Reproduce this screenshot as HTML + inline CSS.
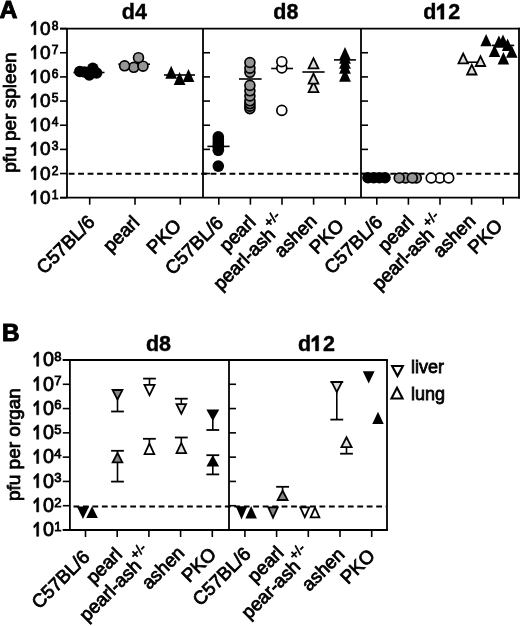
<!DOCTYPE html>
<html><head><meta charset="utf-8"><style>
html,body{margin:0;padding:0;background:#fff;}
svg{display:block;filter:grayscale(1);}
text{font-family:"Liberation Sans", sans-serif;fill:#000;stroke:#000;stroke-width:0.8px;}
</style></head><body>
<svg width="520" height="626" viewBox="0 0 520 626">
<rect width="520" height="626" fill="#fff"/>
<line x1="60.00" y1="28.60" x2="520.00" y2="28.60" stroke="#000" stroke-width="1.8" />
<line x1="60.00" y1="197.70" x2="520.00" y2="197.70" stroke="#000" stroke-width="1.8" />
<line x1="67.00" y1="28.60" x2="67.00" y2="197.70" stroke="#000" stroke-width="1.8" />
<line x1="203.00" y1="28.60" x2="203.00" y2="197.70" stroke="#000" stroke-width="1.8" />
<line x1="361.00" y1="28.60" x2="361.00" y2="197.70" stroke="#000" stroke-width="1.8" />
<line x1="519.00" y1="27.70" x2="519.00" y2="198.60" stroke="#000" stroke-width="1.8" />
<line x1="60.00" y1="197.70" x2="67.00" y2="197.70" stroke="#000" stroke-width="1.6" />
<text x="50.50" y="203.80" font-size="19" text-anchor="end" font-weight="normal" >0</text>
<polygon points="35.89,203.80 35.89,190.20 34.60,190.20 31.08,193.92 31.46,195.91 33.99,193.54 33.99,203.80" fill="#000" stroke="#000" stroke-width="0.6" stroke-linejoin="round"/>
<text x="51.70" y="198.70" font-size="12" text-anchor="start" font-weight="normal" >1</text>
<line x1="60.00" y1="173.54" x2="67.00" y2="173.54" stroke="#000" stroke-width="1.6" />
<line x1="203.00" y1="173.54" x2="210.00" y2="173.54" stroke="#000" stroke-width="1.6" />
<line x1="361.00" y1="173.54" x2="368.00" y2="173.54" stroke="#000" stroke-width="1.6" />
<text x="50.50" y="179.64" font-size="19" text-anchor="end" font-weight="normal" >0</text>
<polygon points="35.89,179.64 35.89,166.04 34.60,166.04 31.08,169.76 31.46,171.76 33.99,169.38 33.99,179.64" fill="#000" stroke="#000" stroke-width="0.6" stroke-linejoin="round"/>
<text x="51.70" y="174.54" font-size="12" text-anchor="start" font-weight="normal" >2</text>
<line x1="60.00" y1="149.39" x2="67.00" y2="149.39" stroke="#000" stroke-width="1.6" />
<line x1="203.00" y1="149.39" x2="210.00" y2="149.39" stroke="#000" stroke-width="1.6" />
<line x1="361.00" y1="149.39" x2="368.00" y2="149.39" stroke="#000" stroke-width="1.6" />
<text x="50.50" y="155.49" font-size="19" text-anchor="end" font-weight="normal" >0</text>
<polygon points="35.89,155.49 35.89,141.88 34.60,141.88 31.08,145.61 31.46,147.60 33.99,145.23 33.99,155.49" fill="#000" stroke="#000" stroke-width="0.6" stroke-linejoin="round"/>
<text x="51.70" y="150.39" font-size="12" text-anchor="start" font-weight="normal" >3</text>
<line x1="60.00" y1="125.23" x2="67.00" y2="125.23" stroke="#000" stroke-width="1.6" />
<line x1="203.00" y1="125.23" x2="210.00" y2="125.23" stroke="#000" stroke-width="1.6" />
<line x1="361.00" y1="125.23" x2="368.00" y2="125.23" stroke="#000" stroke-width="1.6" />
<text x="50.50" y="131.33" font-size="19" text-anchor="end" font-weight="normal" >0</text>
<polygon points="35.89,131.33 35.89,117.72 34.60,117.72 31.08,121.45 31.46,123.44 33.99,121.07 33.99,131.33" fill="#000" stroke="#000" stroke-width="0.6" stroke-linejoin="round"/>
<text x="51.70" y="126.23" font-size="12" text-anchor="start" font-weight="normal" >4</text>
<line x1="60.00" y1="101.07" x2="67.00" y2="101.07" stroke="#000" stroke-width="1.6" />
<line x1="203.00" y1="101.07" x2="210.00" y2="101.07" stroke="#000" stroke-width="1.6" />
<line x1="361.00" y1="101.07" x2="368.00" y2="101.07" stroke="#000" stroke-width="1.6" />
<text x="50.50" y="107.17" font-size="19" text-anchor="end" font-weight="normal" >0</text>
<polygon points="35.89,107.17 35.89,93.57 34.60,93.57 31.08,97.29 31.46,99.29 33.99,96.91 33.99,107.17" fill="#000" stroke="#000" stroke-width="0.6" stroke-linejoin="round"/>
<text x="51.70" y="102.07" font-size="12" text-anchor="start" font-weight="normal" >5</text>
<line x1="60.00" y1="76.91" x2="67.00" y2="76.91" stroke="#000" stroke-width="1.6" />
<line x1="203.00" y1="76.91" x2="210.00" y2="76.91" stroke="#000" stroke-width="1.6" />
<line x1="361.00" y1="76.91" x2="368.00" y2="76.91" stroke="#000" stroke-width="1.6" />
<text x="50.50" y="83.01" font-size="19" text-anchor="end" font-weight="normal" >0</text>
<polygon points="35.89,83.01 35.89,69.41 34.60,69.41 31.08,73.13 31.46,75.13 33.99,72.75 33.99,83.01" fill="#000" stroke="#000" stroke-width="0.6" stroke-linejoin="round"/>
<text x="51.70" y="77.91" font-size="12" text-anchor="start" font-weight="normal" >6</text>
<line x1="60.00" y1="52.76" x2="67.00" y2="52.76" stroke="#000" stroke-width="1.6" />
<line x1="203.00" y1="52.76" x2="210.00" y2="52.76" stroke="#000" stroke-width="1.6" />
<line x1="361.00" y1="52.76" x2="368.00" y2="52.76" stroke="#000" stroke-width="1.6" />
<text x="50.50" y="58.86" font-size="19" text-anchor="end" font-weight="normal" >0</text>
<polygon points="35.89,58.86 35.89,45.25 34.60,45.25 31.08,48.98 31.46,50.97 33.99,48.60 33.99,58.86" fill="#000" stroke="#000" stroke-width="0.6" stroke-linejoin="round"/>
<text x="51.70" y="53.76" font-size="12" text-anchor="start" font-weight="normal" >7</text>
<line x1="60.00" y1="28.60" x2="67.00" y2="28.60" stroke="#000" stroke-width="1.6" />
<text x="50.50" y="34.70" font-size="19" text-anchor="end" font-weight="normal" >0</text>
<polygon points="35.89,34.70 35.89,21.10 34.60,21.10 31.08,24.82 31.46,26.81 33.99,24.44 33.99,34.70" fill="#000" stroke="#000" stroke-width="0.6" stroke-linejoin="round"/>
<text x="51.70" y="29.60" font-size="12" text-anchor="start" font-weight="normal" >8</text>
<line x1="68.70" y1="173.80" x2="519.00" y2="173.80" stroke="#000" stroke-width="2" stroke-dasharray="5.8 3.66"/>
<line x1="89.70" y1="197.70" x2="89.70" y2="204.70" stroke="#000" stroke-width="1.6" />
<line x1="135.00" y1="197.70" x2="135.00" y2="204.70" stroke="#000" stroke-width="1.6" />
<line x1="180.30" y1="197.70" x2="180.30" y2="204.70" stroke="#000" stroke-width="1.6" />
<line x1="218.80" y1="197.70" x2="218.80" y2="204.70" stroke="#000" stroke-width="1.6" />
<line x1="250.40" y1="197.70" x2="250.40" y2="204.70" stroke="#000" stroke-width="1.6" />
<line x1="282.00" y1="197.70" x2="282.00" y2="204.70" stroke="#000" stroke-width="1.6" />
<line x1="313.60" y1="197.70" x2="313.60" y2="204.70" stroke="#000" stroke-width="1.6" />
<line x1="345.20" y1="197.70" x2="345.20" y2="204.70" stroke="#000" stroke-width="1.6" />
<line x1="376.80" y1="197.70" x2="376.80" y2="204.70" stroke="#000" stroke-width="1.6" />
<line x1="408.40" y1="197.70" x2="408.40" y2="204.70" stroke="#000" stroke-width="1.6" />
<line x1="440.00" y1="197.70" x2="440.00" y2="204.70" stroke="#000" stroke-width="1.6" />
<line x1="471.60" y1="197.70" x2="471.60" y2="204.70" stroke="#000" stroke-width="1.6" />
<line x1="503.20" y1="197.70" x2="503.20" y2="204.70" stroke="#000" stroke-width="1.6" />
<text x="134.30" y="19.20" font-size="21.5" text-anchor="middle" font-weight="bold"  style="stroke-width:0.4px">d4</text>
<text x="285.80" y="19.20" font-size="21.5" text-anchor="middle" font-weight="bold"  style="stroke-width:0.4px">d8</text>
<text x="423.18" y="19.20" font-size="21.5" text-anchor="start" font-weight="bold"  style="stroke-width:0.4px">d</text>
<polygon points="443.95,19.20 443.95,3.81 441.69,3.81 437.07,7.48 437.07,10.49 440.72,8.45 440.72,19.20" fill="#000" stroke="#000" stroke-width="0.4" stroke-linejoin="round"/>
<text x="448.27" y="19.20" font-size="21.5" text-anchor="start" font-weight="bold"  style="stroke-width:0.4px">2</text>
<text x="-0.50" y="17.60" font-size="24.8" text-anchor="start" font-weight="bold" style="stroke-width:1px">A</text>
<text transform="translate(16.2,112.6) rotate(-90)" font-size="19" text-anchor="middle">pfu per spleen</text>
<text transform="translate(96.00,223.20) rotate(-45)" font-size="18.8" text-anchor="end">C57BL/6</text>
<text transform="translate(140.40,223.60) rotate(-45)" font-size="18.8" text-anchor="end">pearl</text>
<text transform="translate(182.40,226.90) rotate(-45)" font-size="18.8" text-anchor="end">PKO</text>
<text transform="translate(224.40,224.00) rotate(-45)" font-size="18.8" text-anchor="end">C57BL/6</text>
<text transform="translate(256.60,223.40) rotate(-45)" font-size="18.8" text-anchor="end">pearl</text>
<text transform="translate(276.29,235.81) rotate(-45)" font-size="18.8" text-anchor="end">pearl-ash</text>
<text transform="translate(269.22,227.89) rotate(-45)" font-size="13.5">+/-</text>
<text transform="translate(318.00,222.20) rotate(-45)" font-size="18.8" text-anchor="end">ashen</text>
<text transform="translate(345.00,226.90) rotate(-45)" font-size="18.8" text-anchor="end">PKO</text>
<text transform="translate(383.70,223.40) rotate(-45)" font-size="18.8" text-anchor="end">C57BL/6</text>
<text transform="translate(415.00,223.40) rotate(-45)" font-size="18.8" text-anchor="end">pearl</text>
<text transform="translate(435.09,235.76) rotate(-45)" font-size="18.8" text-anchor="end">pearl-ash</text>
<text transform="translate(428.02,227.84) rotate(-45)" font-size="13.5">+/-</text>
<text transform="translate(476.60,222.20) rotate(-45)" font-size="18.8" text-anchor="end">ashen</text>
<text transform="translate(503.60,226.90) rotate(-45)" font-size="18.8" text-anchor="end">PKO</text>
<line x1="73.40" y1="72.50" x2="104.50" y2="72.50" stroke="#000" stroke-width="1.6" />
<line x1="118.30" y1="64.20" x2="150.00" y2="64.20" stroke="#000" stroke-width="1.6" />
<line x1="164.00" y1="75.00" x2="195.00" y2="75.00" stroke="#000" stroke-width="1.6" />
<line x1="207.40" y1="146.40" x2="229.60" y2="146.40" stroke="#000" stroke-width="1.6" />
<line x1="239.00" y1="79.00" x2="261.60" y2="79.00" stroke="#000" stroke-width="1.6" />
<line x1="271.20" y1="68.50" x2="293.00" y2="68.50" stroke="#000" stroke-width="1.6" />
<line x1="302.30" y1="72.00" x2="324.60" y2="72.00" stroke="#000" stroke-width="1.6" />
<line x1="334.00" y1="59.90" x2="355.90" y2="59.90" stroke="#000" stroke-width="1.6" />
<line x1="460.60" y1="62.20" x2="482.60" y2="62.20" stroke="#000" stroke-width="1.6" />
<line x1="492.00" y1="45.40" x2="514.20" y2="45.40" stroke="#000" stroke-width="1.6" />
<circle cx="79.80" cy="71.50" r="5.8" fill="#000"/>
<circle cx="84.50" cy="72.00" r="5.8" fill="#000"/>
<circle cx="89.30" cy="75.00" r="5.8" fill="#000"/>
<circle cx="96.60" cy="73.00" r="5.8" fill="#000"/>
<circle cx="92.80" cy="68.30" r="5.8" fill="#000"/>
<circle cx="133.80" cy="67.30" r="4.95" fill="#969696" stroke="#000" stroke-width="1.7"/>
<circle cx="124.60" cy="65.80" r="4.95" fill="#969696" stroke="#000" stroke-width="1.7"/>
<circle cx="143.00" cy="66.20" r="4.95" fill="#969696" stroke="#000" stroke-width="1.7"/>
<circle cx="138.50" cy="57.70" r="4.95" fill="#969696" stroke="#000" stroke-width="1.7"/>
<polygon points="171.20,65.80 177.10,78.80 165.30,78.80" fill="#000"/>
<polygon points="188.50,68.90 194.40,81.90 182.60,81.90" fill="#000"/>
<polygon points="179.60,71.90 185.50,84.90 173.70,84.90" fill="#000"/>
<circle cx="218.30" cy="150.30" r="5.8" fill="#000"/>
<circle cx="218.30" cy="147.50" r="5.8" fill="#000"/>
<circle cx="218.30" cy="145.00" r="5.8" fill="#000"/>
<circle cx="218.30" cy="142.50" r="5.8" fill="#000"/>
<circle cx="218.30" cy="139.50" r="5.8" fill="#000"/>
<circle cx="218.30" cy="136.80" r="5.8" fill="#000"/>
<circle cx="218.30" cy="166.10" r="5.8" fill="#000"/>
<circle cx="249.90" cy="72.30" r="4.95" fill="#969696" stroke="#000" stroke-width="1.7"/>
<circle cx="249.90" cy="68.20" r="4.95" fill="#969696" stroke="#000" stroke-width="1.7"/>
<circle cx="249.90" cy="62.50" r="4.95" fill="#969696" stroke="#000" stroke-width="1.7"/>
<circle cx="249.90" cy="108.60" r="4.95" fill="#969696" stroke="#000" stroke-width="1.7"/>
<circle cx="249.90" cy="106.20" r="4.95" fill="#969696" stroke="#000" stroke-width="1.7"/>
<circle cx="249.90" cy="103.60" r="4.95" fill="#969696" stroke="#000" stroke-width="1.7"/>
<circle cx="249.90" cy="100.80" r="4.95" fill="#969696" stroke="#000" stroke-width="1.7"/>
<circle cx="249.90" cy="96.00" r="4.95" fill="#969696" stroke="#000" stroke-width="1.7"/>
<circle cx="249.90" cy="90.80" r="4.95" fill="#969696" stroke="#000" stroke-width="1.7"/>
<circle cx="249.90" cy="85.40" r="4.95" fill="#969696" stroke="#000" stroke-width="1.7"/>
<circle cx="281.80" cy="110.40" r="4.95" fill="#fff" stroke="#000" stroke-width="1.7"/>
<circle cx="281.80" cy="68.00" r="4.95" fill="#fff" stroke="#000" stroke-width="1.7"/>
<circle cx="281.80" cy="61.70" r="4.95" fill="#fff" stroke="#000" stroke-width="1.7"/>
<polygon points="313.50,80.00 319.80,93.00 307.20,93.00" fill="#000"/>
<polygon points="313.50,84.13 316.93,91.20 310.07,91.20" fill="#dedede"/>
<polygon points="313.50,71.60 319.80,84.60 307.20,84.60" fill="#000"/>
<polygon points="313.50,75.73 316.93,82.80 310.07,82.80" fill="#dedede"/>
<polygon points="313.50,56.20 319.80,69.20 307.20,69.20" fill="#000"/>
<polygon points="313.50,60.33 316.93,67.40 310.07,67.40" fill="#dedede"/>
<polygon points="345.00,68.70 350.90,81.70 339.10,81.70" fill="#000"/>
<polygon points="345.00,60.80 350.90,73.80 339.10,73.80" fill="#000"/>
<polygon points="345.00,55.70 350.90,68.70 339.10,68.70" fill="#000"/>
<polygon points="345.00,50.70 350.90,63.70 339.10,63.70" fill="#000"/>
<polygon points="345.00,46.90 350.90,59.90 339.10,59.90" fill="#000"/>
<circle cx="368.00" cy="177.70" r="5.8" fill="#000"/>
<circle cx="373.70" cy="177.70" r="5.8" fill="#000"/>
<circle cx="379.40" cy="177.70" r="5.8" fill="#000"/>
<circle cx="385.00" cy="177.70" r="5.8" fill="#000"/>
<circle cx="405.50" cy="178.00" r="4.95" fill="#969696" stroke="#000" stroke-width="1.7"/>
<circle cx="416.30" cy="178.00" r="4.95" fill="#969696" stroke="#000" stroke-width="1.7"/>
<circle cx="399.20" cy="178.00" r="4.95" fill="#969696" stroke="#000" stroke-width="1.7"/>
<circle cx="412.30" cy="178.00" r="4.95" fill="#969696" stroke="#000" stroke-width="1.7"/>
<circle cx="439.80" cy="178.00" r="4.95" fill="#fff" stroke="#000" stroke-width="1.7"/>
<circle cx="431.20" cy="178.00" r="4.95" fill="#fff" stroke="#000" stroke-width="1.7"/>
<circle cx="448.70" cy="178.00" r="4.95" fill="#fff" stroke="#000" stroke-width="1.7"/>
<polygon points="471.80,62.80 477.95,75.40 465.65,75.40" fill="#000"/>
<polygon points="471.80,66.90 475.07,73.60 468.53,73.60" fill="#dedede"/>
<polygon points="463.20,51.60 469.35,64.20 457.05,64.20" fill="#000"/>
<polygon points="463.20,55.70 466.47,62.40 459.93,62.40" fill="#dedede"/>
<polygon points="480.50,54.30 486.65,66.90 474.35,66.90" fill="#000"/>
<polygon points="480.50,58.40 483.77,65.10 477.23,65.10" fill="#dedede"/>
<polygon points="486.10,34.00 491.85,46.30 480.35,46.30" fill="#000"/>
<polygon points="498.90,35.50 504.65,47.80 493.15,47.80" fill="#000"/>
<polygon points="503.00,34.40 508.75,46.70 497.25,46.70" fill="#000"/>
<polygon points="507.60,38.60 513.35,50.90 501.85,50.90" fill="#000"/>
<polygon points="494.50,44.80 500.25,57.10 488.75,57.10" fill="#000"/>
<polygon points="511.80,45.50 517.55,57.80 506.05,57.80" fill="#000"/>
<polygon points="503.40,52.10 509.15,64.40 497.65,64.40" fill="#000"/>
<line x1="62.80" y1="360.00" x2="387.90" y2="360.00" stroke="#000" stroke-width="1.8" />
<line x1="62.80" y1="530.00" x2="387.90" y2="530.00" stroke="#000" stroke-width="1.8" />
<line x1="69.90" y1="360.00" x2="69.90" y2="530.00" stroke="#000" stroke-width="1.8" />
<line x1="229.00" y1="360.00" x2="229.00" y2="530.00" stroke="#000" stroke-width="1.8" />
<line x1="387.00" y1="360.00" x2="387.00" y2="530.00" stroke="#000" stroke-width="1.8" />
<line x1="62.80" y1="530.00" x2="69.90" y2="530.00" stroke="#000" stroke-width="1.6" />
<text x="53.90" y="536.30" font-size="19.8" text-anchor="end" font-weight="normal" >0</text>
<polygon points="38.67,536.30 38.67,522.12 37.33,522.12 33.66,526.00 34.06,528.08 36.69,525.61 36.69,536.30" fill="#000" stroke="#000" stroke-width="0.6" stroke-linejoin="round"/>
<text x="54.20" y="530.90" font-size="13" text-anchor="start" font-weight="normal" >1</text>
<line x1="62.80" y1="505.71" x2="69.90" y2="505.71" stroke="#000" stroke-width="1.6" />
<line x1="229.00" y1="505.71" x2="236.00" y2="505.71" stroke="#000" stroke-width="1.6" />
<text x="53.90" y="512.01" font-size="19.8" text-anchor="end" font-weight="normal" >0</text>
<polygon points="38.67,512.01 38.67,497.84 37.33,497.84 33.66,501.72 34.06,503.80 36.69,501.32 36.69,512.01" fill="#000" stroke="#000" stroke-width="0.6" stroke-linejoin="round"/>
<text x="54.20" y="506.61" font-size="13" text-anchor="start" font-weight="normal" >2</text>
<line x1="62.80" y1="481.43" x2="69.90" y2="481.43" stroke="#000" stroke-width="1.6" />
<line x1="229.00" y1="481.43" x2="236.00" y2="481.43" stroke="#000" stroke-width="1.6" />
<text x="53.90" y="487.73" font-size="19.8" text-anchor="end" font-weight="normal" >0</text>
<polygon points="38.67,487.73 38.67,473.55 37.33,473.55 33.66,477.43 34.06,479.51 36.69,477.04 36.69,487.73" fill="#000" stroke="#000" stroke-width="0.6" stroke-linejoin="round"/>
<text x="54.20" y="482.33" font-size="13" text-anchor="start" font-weight="normal" >3</text>
<line x1="62.80" y1="457.14" x2="69.90" y2="457.14" stroke="#000" stroke-width="1.6" />
<line x1="229.00" y1="457.14" x2="236.00" y2="457.14" stroke="#000" stroke-width="1.6" />
<text x="53.90" y="463.44" font-size="19.8" text-anchor="end" font-weight="normal" >0</text>
<polygon points="38.67,463.44 38.67,449.27 37.33,449.27 33.66,453.15 34.06,455.23 36.69,452.75 36.69,463.44" fill="#000" stroke="#000" stroke-width="0.6" stroke-linejoin="round"/>
<text x="54.20" y="458.04" font-size="13" text-anchor="start" font-weight="normal" >4</text>
<line x1="62.80" y1="432.86" x2="69.90" y2="432.86" stroke="#000" stroke-width="1.6" />
<line x1="229.00" y1="432.86" x2="236.00" y2="432.86" stroke="#000" stroke-width="1.6" />
<text x="53.90" y="439.16" font-size="19.8" text-anchor="end" font-weight="normal" >0</text>
<polygon points="38.67,439.16 38.67,424.98 37.33,424.98 33.66,428.86 34.06,430.94 36.69,428.47 36.69,439.16" fill="#000" stroke="#000" stroke-width="0.6" stroke-linejoin="round"/>
<text x="54.20" y="433.76" font-size="13" text-anchor="start" font-weight="normal" >5</text>
<line x1="62.80" y1="408.57" x2="69.90" y2="408.57" stroke="#000" stroke-width="1.6" />
<line x1="229.00" y1="408.57" x2="236.00" y2="408.57" stroke="#000" stroke-width="1.6" />
<text x="53.90" y="414.87" font-size="19.8" text-anchor="end" font-weight="normal" >0</text>
<polygon points="38.67,414.87 38.67,400.69 37.33,400.69 33.66,404.58 34.06,406.65 36.69,404.18 36.69,414.87" fill="#000" stroke="#000" stroke-width="0.6" stroke-linejoin="round"/>
<text x="54.20" y="409.47" font-size="13" text-anchor="start" font-weight="normal" >6</text>
<line x1="62.80" y1="384.29" x2="69.90" y2="384.29" stroke="#000" stroke-width="1.6" />
<line x1="229.00" y1="384.29" x2="236.00" y2="384.29" stroke="#000" stroke-width="1.6" />
<text x="53.90" y="390.59" font-size="19.8" text-anchor="end" font-weight="normal" >0</text>
<polygon points="38.67,390.59 38.67,376.41 37.33,376.41 33.66,380.29 34.06,382.37 36.69,379.89 36.69,390.59" fill="#000" stroke="#000" stroke-width="0.6" stroke-linejoin="round"/>
<text x="54.20" y="385.19" font-size="13" text-anchor="start" font-weight="normal" >7</text>
<line x1="62.80" y1="360.00" x2="69.90" y2="360.00" stroke="#000" stroke-width="1.6" />
<text x="53.90" y="366.30" font-size="19.8" text-anchor="end" font-weight="normal" >0</text>
<polygon points="38.67,366.30 38.67,352.12 37.33,352.12 33.66,356.00 34.06,358.08 36.69,355.61 36.69,366.30" fill="#000" stroke="#000" stroke-width="0.6" stroke-linejoin="round"/>
<text x="54.20" y="360.90" font-size="13" text-anchor="start" font-weight="normal" >8</text>
<line x1="73.50" y1="506.60" x2="386.00" y2="506.60" stroke="#000" stroke-width="2" stroke-dasharray="5.8 3.66"/>
<line x1="85.50" y1="530.00" x2="85.50" y2="537.00" stroke="#000" stroke-width="1.6" />
<line x1="117.20" y1="530.00" x2="117.20" y2="537.00" stroke="#000" stroke-width="1.6" />
<line x1="148.90" y1="530.00" x2="148.90" y2="537.00" stroke="#000" stroke-width="1.6" />
<line x1="180.60" y1="530.00" x2="180.60" y2="537.00" stroke="#000" stroke-width="1.6" />
<line x1="212.30" y1="530.00" x2="212.30" y2="537.00" stroke="#000" stroke-width="1.6" />
<line x1="244.90" y1="530.00" x2="244.90" y2="537.00" stroke="#000" stroke-width="1.6" />
<line x1="276.60" y1="530.00" x2="276.60" y2="537.00" stroke="#000" stroke-width="1.6" />
<line x1="308.30" y1="530.00" x2="308.30" y2="537.00" stroke="#000" stroke-width="1.6" />
<line x1="340.00" y1="530.00" x2="340.00" y2="537.00" stroke="#000" stroke-width="1.6" />
<line x1="371.70" y1="530.00" x2="371.70" y2="537.00" stroke="#000" stroke-width="1.6" />
<text x="158.50" y="350.90" font-size="21.5" text-anchor="middle" font-weight="bold"  style="stroke-width:0.4px">d8</text>
<text x="297.88" y="350.90" font-size="21.5" text-anchor="start" font-weight="bold"  style="stroke-width:0.4px">d</text>
<polygon points="318.65,350.90 318.65,335.51 316.39,335.51 311.77,339.18 311.77,342.19 315.42,340.15 315.42,350.90" fill="#000" stroke="#000" stroke-width="0.4" stroke-linejoin="round"/>
<text x="322.97" y="350.90" font-size="21.5" text-anchor="start" font-weight="bold"  style="stroke-width:0.4px">2</text>
<text x="2.00" y="340.90" font-size="24.3" text-anchor="start" font-weight="bold" style="stroke-width:1px">B</text>
<text transform="translate(20,444.6) rotate(-90)" font-size="19" text-anchor="middle">pfu per organ</text>
<text transform="translate(90.90,558.00) rotate(-45)" font-size="18.8" text-anchor="end">C57BL/6</text>
<text transform="translate(123.20,555.50) rotate(-45)" font-size="18.8" text-anchor="end">pearl</text>
<text transform="translate(142.49,567.11) rotate(-45)" font-size="18.8" text-anchor="end">pearl-ash</text>
<text transform="translate(135.49,560.11) rotate(-45)" font-size="13.5">+/-</text>
<text transform="translate(185.40,554.10) rotate(-45)" font-size="18.8" text-anchor="end">ashen</text>
<text transform="translate(217.30,555.30) rotate(-45)" font-size="18.8" text-anchor="end">PKO</text>
<text transform="translate(251.90,555.00) rotate(-45)" font-size="18.8" text-anchor="end">C57BL/6</text>
<text transform="translate(284.65,554.10) rotate(-45)" font-size="18.8" text-anchor="end">pearl</text>
<text transform="translate(301.49,567.51) rotate(-45)" font-size="18.8" text-anchor="end">pear-ash</text>
<text transform="translate(294.49,560.51) rotate(-45)" font-size="13.5">+/-</text>
<text transform="translate(345.55,555.70) rotate(-45)" font-size="18.8" text-anchor="end">ashen</text>
<text transform="translate(376.00,557.00) rotate(-45)" font-size="18.8" text-anchor="end">PKO</text>
<line x1="117.50" y1="395.00" x2="117.50" y2="411.50" stroke="#000" stroke-width="1.6" />
<line x1="111.10" y1="411.50" x2="123.90" y2="411.50" stroke="#000" stroke-width="1.8" />
<polygon points="111.10,389.10 123.90,389.10 117.50,401.50" fill="#000"/>
<polygon points="114.05,390.90 120.95,390.90 117.50,397.58" fill="#878787"/>
<line x1="117.50" y1="458.00" x2="117.50" y2="450.80" stroke="#000" stroke-width="1.6" />
<line x1="111.10" y1="450.80" x2="123.90" y2="450.80" stroke="#000" stroke-width="1.8" />
<line x1="117.50" y1="458.00" x2="117.50" y2="481.60" stroke="#000" stroke-width="1.6" />
<line x1="111.10" y1="481.60" x2="123.90" y2="481.60" stroke="#000" stroke-width="1.8" />
<polygon points="117.50,451.00 123.80,463.30 111.20,463.30" fill="#000"/>
<polygon points="117.50,454.95 120.86,461.50 114.14,461.50" fill="#878787"/>
<line x1="149.50" y1="390.00" x2="149.50" y2="378.60" stroke="#000" stroke-width="1.6" />
<line x1="143.10" y1="378.60" x2="155.90" y2="378.60" stroke="#000" stroke-width="1.8" />
<polygon points="143.00,384.00 156.00,384.00 149.50,397.20" fill="#000"/>
<polygon points="145.89,385.80 153.11,385.80 149.50,393.13" fill="#fff"/>
<line x1="149.40" y1="449.00" x2="149.40" y2="438.80" stroke="#000" stroke-width="1.6" />
<line x1="143.00" y1="438.80" x2="155.80" y2="438.80" stroke="#000" stroke-width="1.8" />
<polygon points="149.40,441.50 155.65,455.00 143.15,455.00" fill="#000"/>
<polygon points="149.40,445.78 152.83,453.20 145.97,453.20" fill="#fff"/>
<line x1="181.30" y1="409.00" x2="181.30" y2="398.70" stroke="#000" stroke-width="1.6" />
<line x1="174.90" y1="398.70" x2="187.70" y2="398.70" stroke="#000" stroke-width="1.8" />
<polygon points="175.10,403.30 187.50,403.30 181.30,415.80" fill="#000"/>
<polygon points="178.00,405.10 184.60,405.10 181.30,411.75" fill="#dedede"/>
<line x1="181.30" y1="448.00" x2="181.30" y2="437.50" stroke="#000" stroke-width="1.6" />
<line x1="174.90" y1="437.50" x2="187.70" y2="437.50" stroke="#000" stroke-width="1.8" />
<polygon points="181.30,440.90 187.50,454.00 175.10,454.00" fill="#000"/>
<polygon points="181.30,445.11 184.66,452.20 177.94,452.20" fill="#dedede"/>
<line x1="212.80" y1="415.00" x2="212.80" y2="430.00" stroke="#000" stroke-width="1.6" />
<line x1="206.40" y1="430.00" x2="219.20" y2="430.00" stroke="#000" stroke-width="1.8" />
<polygon points="206.35,409.60 219.25,409.60 212.80,421.00" fill="#000"/>
<line x1="212.80" y1="461.00" x2="212.80" y2="455.20" stroke="#000" stroke-width="1.6" />
<line x1="206.40" y1="455.20" x2="219.20" y2="455.20" stroke="#000" stroke-width="1.8" />
<line x1="212.80" y1="461.00" x2="212.80" y2="474.40" stroke="#000" stroke-width="1.6" />
<line x1="206.40" y1="474.40" x2="219.20" y2="474.40" stroke="#000" stroke-width="1.8" />
<polygon points="212.80,455.10 219.15,466.50 206.45,466.50" fill="#000"/>
<polygon points="76.80,506.40 89.10,506.40 82.95,519.10" fill="#000"/>
<polygon points="92.05,506.30 97.90,518.10 86.20,518.10" fill="#000"/>
<polygon points="235.80,506.20 247.30,506.20 241.55,519.50" fill="#000"/>
<polygon points="251.15,506.00 256.90,518.50 245.40,518.50" fill="#000"/>
<polygon points="266.85,506.50 279.15,506.50 273.00,519.80" fill="#000"/>
<polygon points="269.67,508.30 276.33,508.30 273.00,515.51" fill="#878787"/>
<line x1="282.60" y1="495.00" x2="282.60" y2="486.80" stroke="#000" stroke-width="1.6" />
<line x1="276.15" y1="486.80" x2="289.05" y2="486.80" stroke="#000" stroke-width="1.8" />
<polygon points="282.60,488.80 289.05,500.90 276.15,500.90" fill="#000"/>
<polygon points="282.60,492.63 286.05,499.10 279.15,499.10" fill="#878787"/>
<polygon points="298.85,506.50 310.75,506.50 304.80,519.20" fill="#000"/>
<polygon points="301.68,508.30 307.92,508.30 304.80,514.96" fill="#fff"/>
<polygon points="315.00,505.50 320.75,518.20 309.25,518.20" fill="#000"/>
<polygon points="315.00,509.86 317.96,516.40 312.04,516.40" fill="#fff"/>
<line x1="336.80" y1="387.00" x2="336.80" y2="419.60" stroke="#000" stroke-width="1.6" />
<line x1="330.40" y1="419.60" x2="343.20" y2="419.60" stroke="#000" stroke-width="1.8" />
<polygon points="330.20,380.90 343.40,380.90 336.80,393.90" fill="#000"/>
<polygon points="333.13,382.70 340.47,382.70 336.80,389.92" fill="#dedede"/>
<line x1="330.40" y1="382.20" x2="343.20" y2="382.20" stroke="#000" stroke-width="1.6" />
<line x1="346.50" y1="442.00" x2="346.50" y2="453.70" stroke="#000" stroke-width="1.6" />
<line x1="340.10" y1="453.70" x2="352.90" y2="453.70" stroke="#000" stroke-width="1.8" />
<polygon points="346.50,435.20 353.05,448.10 339.95,448.10" fill="#000"/>
<polygon points="346.50,439.18 350.12,446.30 342.88,446.30" fill="#dedede"/>
<polygon points="362.80,371.20 374.60,371.20 368.70,383.40" fill="#000"/>
<polygon points="378.00,411.70 383.75,423.90 372.25,423.90" fill="#000"/>
<polygon points="390.35,365.00 404.65,365.00 397.50,378.30" fill="#000"/>
<polygon points="393.86,367.10 401.14,367.10 397.50,373.87" fill="#fff"/>
<polygon points="397.00,385.50 404.30,399.60 389.70,399.60" fill="#000"/>
<polygon points="397.00,390.07 400.85,397.50 393.15,397.50" fill="#fff"/>
<text x="411.00" y="373.10" font-size="18" text-anchor="start" font-weight="normal" >liver</text>
<text x="411.00" y="399.60" font-size="18" text-anchor="start" font-weight="normal" >lung</text>
</svg>
</body></html>
